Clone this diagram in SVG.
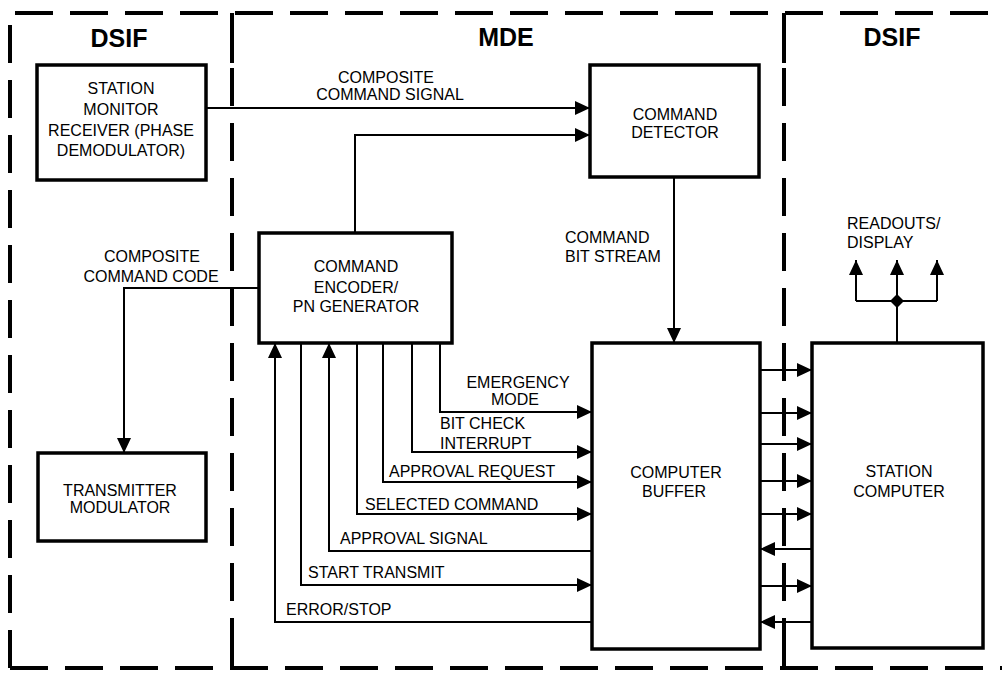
<svg xmlns="http://www.w3.org/2000/svg" width="1002" height="677" viewBox="0 0 1002 677">
<defs>
<marker id="ah" markerUnits="userSpaceOnUse" markerWidth="16" markerHeight="14" refX="15" refY="7" orient="auto">
<path d="M0,0 L15,7 L0,14 z" fill="#000"/>
</marker>
</defs>
<style>
.border{fill:none;stroke:#000;stroke-width:4;stroke-dasharray:38 17}
.solid{fill:none;stroke:#000;stroke-width:4}
.box{fill:#fff;stroke:#000;stroke-width:3.5}
.c{fill:none;stroke:#000;stroke-width:2}
.a{marker-end:url(#ah)}
text{font-family:"Liberation Sans",Arial,sans-serif;font-size:16px;fill:#000}
.t{text-anchor:middle}
.h{font-size:25px;font-weight:bold;text-anchor:middle}
</style>
<rect width="1002" height="677" fill="#fff"/>
<g id="frame">
<path class="border" d="M10,668 V13 H1002"/>
<path class="border" d="M10,668 H1002"/>
<path class="border" d="M232,13 V668"/>
<path class="border" d="M784,13 V668"/>
<path class="solid" d="M232,13 V63 M232,630 V668 M784,13 V63 M784,632 V668"/>
<text class="h" x="119" y="47">DSIF</text>
<text class="h" x="506" y="46">MDE</text>
<text class="h" x="892" y="46">DSIF</text>
</g>
<g id="connectors">
<path class="c a" d="M206,108 H590"/>
<path class="c a" d="M355,233 V135 H590"/>
<path class="c a" d="M259,288 H124 V453"/>
<path class="c a" d="M674,177 V343"/>
<path class="c a" d="M440,343 V412 H592"/>
<path class="c a" d="M412,343 V452 H592"/>
<path class="c a" d="M383,343 V482 H592"/>
<path class="c a" d="M357,343 V514 H592"/>
<path class="c a" d="M592,551 H329 V343"/>
<path class="c a" d="M301,343 V585 H592"/>
<path class="c a" d="M592,622 H275 V343"/>
<path class="c a" d="M760,370 H812"/>
<path class="c a" d="M760,413 H812"/>
<path class="c a" d="M760,444 H812"/>
<path class="c a" d="M760,481 H812"/>
<path class="c a" d="M760,514 H812"/>
<path class="c a" d="M812,549 H760"/>
<path class="c a" d="M760,586 H812"/>
<path class="c a" d="M812,622 H760"/>
<path class="c a" d="M897,343 V260"/>
<path class="c" d="M856,301 H937"/>
<path class="c a" d="M856,301 V260"/>
<path class="c a" d="M937,301 V260"/>
<path d="M897,294 L904,301 L897,308 L890,301 z" fill="#000"/>
<text class="t" x="386" y="83">COMPOSITE</text>
<text class="t" x="390" y="100">COMMAND SIGNAL</text>
<text class="t" x="152" y="262">COMPOSITE</text>
<text class="t" x="151" y="282">COMMAND CODE</text>
<text x="565" y="243">COMMAND</text>
<text x="565" y="262">BIT STREAM</text>
<text x="847" y="229">READOUTS/</text>
<text x="847" y="248">DISPLAY</text>
<text class="t" x="518" y="388">EMERGENCY</text>
<text class="t" x="515" y="405">MODE</text>
<text x="440" y="429">BIT CHECK</text>
<text x="440" y="449">INTERRUPT</text>
<text x="389" y="477">APPROVAL REQUEST</text>
<text x="365" y="510">SELECTED COMMAND</text>
<text x="340" y="544">APPROVAL SIGNAL</text>
<text x="308" y="578">START TRANSMIT</text>
<text x="286" y="615">ERROR/STOP</text>
</g>
<g id="station-monitor">
<rect class="box" x="37" y="65" width="169" height="115"/>
<text class="t" x="121" y="94">STATION</text>
<text class="t" x="121" y="115">MONITOR</text>
<text class="t" x="121" y="136">RECEIVER (PHASE</text>
<text class="t" x="121" y="156">DEMODULATOR)</text>
</g>
<g id="command-detector">
<rect class="box" x="590" y="65" width="169" height="112"/>
<text class="t" x="675" y="120">COMMAND</text>
<text class="t" x="675" y="138">DETECTOR</text>
</g>
<g id="command-encoder">
<rect class="box" x="259" y="233" width="193" height="110"/>
<text class="t" x="356" y="272">COMMAND</text>
<text class="t" x="356" y="293">ENCODER/</text>
<text class="t" x="356" y="312">PN GENERATOR</text>
</g>
<g id="transmitter-modulator">
<rect class="box" x="38" y="453" width="168" height="88"/>
<text class="t" x="120" y="496">TRANSMITTER</text>
<text class="t" x="120" y="513">MODULATOR</text>
</g>
<g id="computer-buffer">
<rect class="box" x="592" y="343" width="168" height="306"/>
<text class="t" x="676" y="478">COMPUTER</text>
<text class="t" x="674" y="497">BUFFER</text>
</g>
<g id="station-computer">
<rect class="box" x="812" y="343" width="171" height="305"/>
<text class="t" x="899" y="477">STATION</text>
<text class="t" x="899" y="497">COMPUTER</text>
</g>
</svg>
